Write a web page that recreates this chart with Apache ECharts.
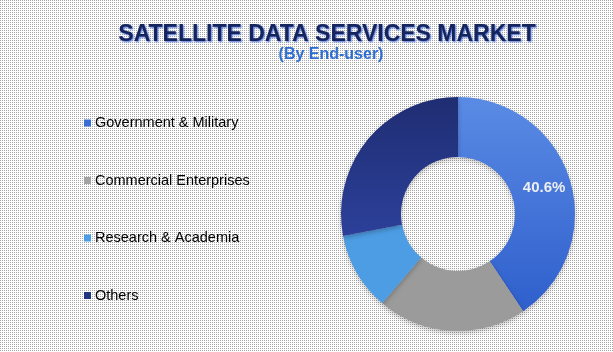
<!DOCTYPE html>
<html>
<head>
<meta charset="utf-8">
<script src="https://cdn.jsdelivr.net/npm/echarts@6/dist/echarts.min.js"></script>
<style>
  html, body { margin: 0; padding: 0; }
  #main { width: 613px; height: 352px; }
</style>
</head>
<body>
<div id="main"></div>
<script>
var chartDom = document.getElementById('main');
var myChart = echarts.init(chartDom);
var option;

// market share by end-user (%)
const categories = ['Government & Military', 'Commercial Enterprises', 'Research & Academia', 'Others'];
const shares = [40.6, 20.6, 10.8, 28.0];
const colors = [
  new echarts.graphic.LinearGradient(0, 0, 0, 1, [
    { offset: 0, color: '#5a8be4' },
    { offset: 1, color: '#2f5fcc' }
  ]),
  '#9b9b9b',
  '#4d9de4',
  new echarts.graphic.LinearGradient(0, 0, 0, 1, [
    { offset: 0, color: '#1f2d72' },
    { offset: 1, color: '#2c409a' }
  ])
];
const legendColors = ['#3b6fd8', '#a3a3a3', '#4d9de4', '#22357f'];

// dotted backdrop like the original image
const tile = document.createElement('canvas');
tile.width = 2;
tile.height = 2;
const ctx = tile.getContext('2d');
ctx.fillStyle = '#ffffff';
ctx.fillRect(0, 0, 2, 2);
ctx.fillStyle = '#a6a6a6';
ctx.fillRect(0, 0, 1, 1);

const pieData = categories.map(function (name, i) {
  return {
    name: name,
    value: shares[i],
    itemStyle: { color: colors[i] },
    label: { show: i === 0 }
  };
});

option = {
  backgroundColor: { image: tile, repeat: 'repeat' },
  textStyle: { fontFamily: 'Liberation Sans, Arial, sans-serif' },
  title: [
    {
      text: 'SATELLITE DATA SERVICES MARKET',
      left: 322,
      top: 18,
      textAlign: 'center',
      textStyle: {
        fontSize: 23,
        fontWeight: 'bold',
        color: '#15255c',
        textShadowColor: 'rgba(60,100,220,0.9)',
        textShadowBlur: 2,
        textShadowOffsetX: 1,
        textShadowOffsetY: 1
      }
    },
    {
      text: '(By End-user)',
      left: 326,
      top: 42,
      textAlign: 'center',
      textStyle: {
        fontSize: 16,
        fontWeight: 'bold',
        color: '#2f6fd4'
      }
    }
  ],
  legend: {
    orient: 'vertical',
    left: 84,
    top: 115,
    padding: 0,
    icon: 'rect',
    itemWidth: 7,
    itemHeight: 7,
    itemGap: 41.5,
    textStyle: {
      fontSize: 14.5,
      lineHeight: 16,
      color: '#000',
      padding: [0, 0, 0, -1]
    },
    data: categories.map(function (name, i) {
      return { name: name, itemStyle: { color: legendColors[i] } };
    })
  },
  series: [
    {
      type: 'pie',
      center: [458, 214],
      radius: [57, 117],
      startAngle: 90,
      clockwise: true,
      silent: true,
      data: pieData,
      itemStyle: {
        shadowBlur: 5,
        shadowColor: 'rgba(0,0,0,0.25)',
        shadowOffsetY: 2
      },
      label: {
        position: 'inside',
        formatter: '{c}%',
        color: '#eeeeee',
        fontSize: 15,
        fontWeight: 'bold'
      },
      labelLine: { show: false }
    }
  ]
};

option && myChart.setOption(option);
</script>
</body>
</html>
